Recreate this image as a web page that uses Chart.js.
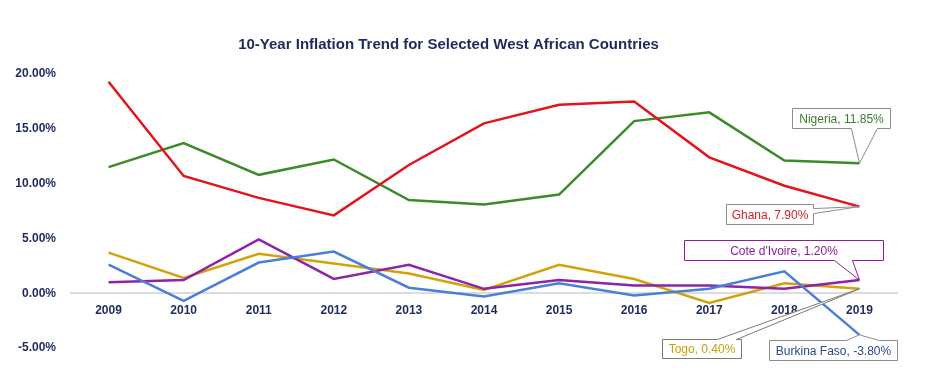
<!DOCTYPE html>
<html>
<head>
<meta charset="utf-8">
<script src="https://cdn.jsdelivr.net/npm/chart.js@4"></script>
<style>
  html, body { margin: 0; padding: 0; background: #fff; }
  #wrap { width: 947px; height: 372px; position: relative; }
</style>
</head>
<body>
<div id="wrap"><canvas id="inflationChart"></canvas></div>
<script>
// Chart data
const years = ['2009', '2010', '2011', '2012', '2013', '2014', '2015', '2016', '2017', '2018', '2019'];
const ghana = [19.3, 10.7, 8.7, 7.1, 11.7, 15.5, 17.2, 17.5, 12.4, 9.8, 7.9];
const nigeria = [11.5, 13.7, 10.8, 12.2, 8.5, 8.1, 9.0, 15.7, 16.5, 12.1, 11.85];
const burkinaFaso = [2.6, -0.7, 2.8, 3.8, 0.5, -0.3, 0.9, -0.2, 0.4, 2.0, -3.8];
const coteDIvoire = [1.0, 1.2, 4.9, 1.3, 2.6, 0.4, 1.2, 0.7, 0.7, 0.4, 1.2];
const togo = [3.7, 1.4, 3.6, 2.7, 1.8, 0.3, 2.6, 1.3, -0.9, 0.9, 0.4];
const yTicks = [-5, 0, 5, 10, 15, 20];

const navy = '#1d2a5e';

// Callout boxes next to the 2019 values (offsets from the last point)
const callouts = [
    { ds: 0, text: 'Ghana, 7.90%', color: '#d21f26', border: '#8c8c8c', box: [-133, -3, 87, 20], side: 'right', wedge: [2, 7] },
    { ds: 1, text: 'Nigeria, 11.85%', color: '#3b7d2c', border: '#8c8c8c', box: [-67, -55, 98, 20], side: 'bottom', wedge: [-8, 18] },
    { ds: 2, text: 'Burkina Faso, -3.80%', color: '#2a4a8c', border: '#8c8c8c', box: [-90, 5, 128, 20], side: 'top', wedge: [-13, 20] },
    { ds: 3, text: "Cote d'Ivoire, 1.20%", color: '#8a1f9c', border: '#8a1f9c', box: [-175, -40, 199, 20], side: 'bottom', wedge: [-25, -7] },
    { ds: 4, text: 'Togo, 0.40%', color: '#c9a00c', border: '#7a7a7a', box: [-197, 50, 79, 19], side: 'top', wedge: [-142, -123] }
];

const calloutPlugin = {
    id: 'callouts',
    afterDatasetsDraw(chart) {
        const ctx = chart.ctx;
        callouts.forEach(c => {
            const meta = chart.getDatasetMeta(c.ds);
            const pt = meta.data[meta.data.length - 1];
            const px = pt.x, py = pt.y;
            const x = Math.round(px + c.box[0]) + 0.5;
            const y = Math.round(py + c.box[1]) + 0.5;
            const w = c.box[2], h = c.box[3];
            ctx.save();
            ctx.beginPath();
            ctx.moveTo(x, y);
            if (c.side === 'top') {
                ctx.lineTo(px + c.wedge[0], y);
                ctx.lineTo(px, py);
                ctx.lineTo(px + c.wedge[1], y);
            }
            ctx.lineTo(x + w, y);
            if (c.side === 'right') {
                ctx.lineTo(x + w, py + c.wedge[0]);
                ctx.lineTo(px, py);
                ctx.lineTo(x + w, py + c.wedge[1]);
            }
            ctx.lineTo(x + w, y + h);
            if (c.side === 'bottom') {
                ctx.lineTo(px + c.wedge[1], y + h);
                ctx.lineTo(px, py);
                ctx.lineTo(px + c.wedge[0], y + h);
            }
            ctx.lineTo(x, y + h);
            ctx.closePath();
            ctx.fillStyle = '#ffffff';
            ctx.fill();
            ctx.lineWidth = 1;
            ctx.strokeStyle = c.border;
            ctx.stroke();
            ctx.fillStyle = c.color;
            ctx.font = '12px "Liberation Sans", Arial, sans-serif';
            ctx.textAlign = 'center';
            ctx.textBaseline = 'middle';
            ctx.fillText(c.text, x + w / 2, y + h / 2 + 1);
            ctx.restore();
        });
    }
};

function lineSet(label, data, color) {
    return {
        label: label,
        data: data,
        borderColor: color,
        backgroundColor: color,
        borderWidth: 2.5,
        pointRadius: 0,
        tension: 0,
        fill: false
    };
}

const ctx = document.getElementById('inflationChart').getContext('2d');
new Chart(ctx, {
    type: 'line',
    data: {
        labels: years,
        datasets: [
            lineSet('Ghana', ghana, '#e3151c'),
            lineSet('Nigeria', nigeria, '#3d8a2c'),
            lineSet('Burkina Faso', burkinaFaso, '#4b7fd5'),
            lineSet("Cote d'Ivoire", coteDIvoire, '#8e22a8'),
            lineSet('Togo', togo, '#d2a20b')
        ]
    },
    options: {
        responsive: true,
        maintainAspectRatio: false,
        animation: false,
        layout: { padding: { top: 0, right: 50, bottom: 24, left: 0 } },
        plugins: {
            legend: { display: false },
            tooltip: { enabled: false },
            title: {
                display: true,
                text: '10-Year Inflation Trend for Selected West African Countries',
                color: navy,
                font: { family: '"Liberation Sans", Arial, sans-serif', size: 15, weight: 'bold', lineHeight: 1.2 },
                padding: { top: 36, bottom: 20 }
            }
        },
        scales: {
            x: {
                position: { y: 0 },
                offset: true,
                grid: { display: false, drawTicks: false },
                border: { display: true, color: '#dcdcdc', width: 2 },
                ticks: {
                    color: navy,
                    padding: 10,
                    font: { family: '"Liberation Sans", Arial, sans-serif', size: 12, weight: 'bold' }
                }
            },
            y: {
                min: -5,
                max: 20,
                afterBuildTicks: scale => { scale.ticks = yTicks.map(v => ({ value: v })); },
                afterFit: scale => { scale.width = 71; },
                grid: { display: false, drawTicks: false },
                border: { display: false },
                ticks: {
                    color: navy,
                    padding: 15,
                    font: { family: '"Liberation Sans", Arial, sans-serif', size: 12, weight: 'bold' },
                    callback: v => v.toFixed(2) + '%'
                }
            }
        }
    },
    plugins: [calloutPlugin]
});
</script>
</body>
</html>
